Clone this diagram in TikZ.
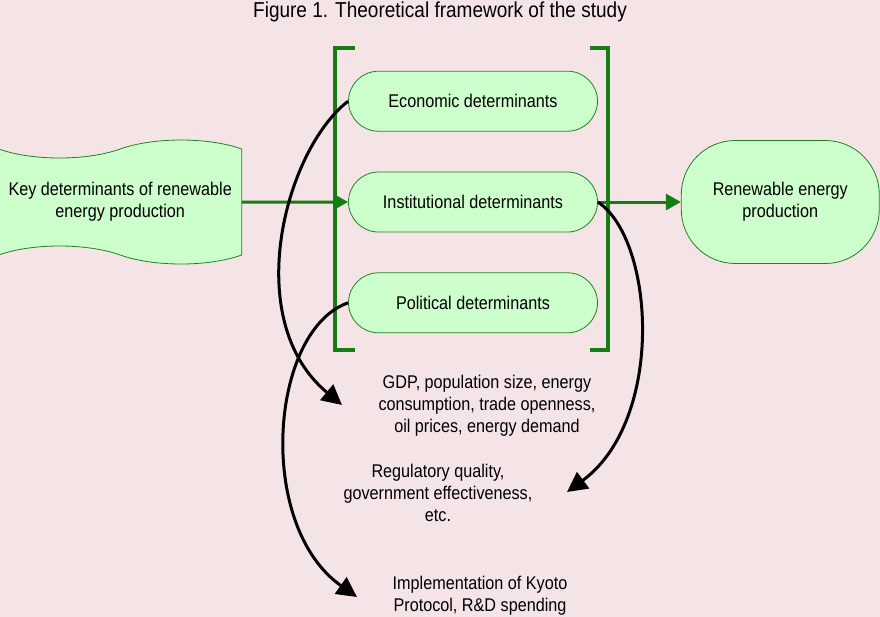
\documentclass[tikz,border=0pt]{standalone}
\usepackage{fontspec}
\setmainfont{Liberation Sans}[FakeStretch=0.88]
\usetikzlibrary{positioning,arrows.meta,shapes.symbols}
\definecolor{bgpink}{RGB}{245,228,230}
\definecolor{boxfill}{RGB}{204,255,204}
\definecolor{boxline}{RGB}{34,130,34}
\definecolor{darkgrn}{RGB}{20,125,20}
\begin{document}
\begin{tikzpicture}[x=0.5pt,y=-0.5pt,font=\fontsize{9.2}{11}\selectfont,
    det/.style={draw=boxline,fill=boxfill,rounded corners=15pt,minimum width=124.5pt,minimum height=30pt},
    gr/.style={-{Triangle[length=7.5pt,width=8pt]},darkgrn,line width=1.5pt},
    bl/.style={-{Triangle[length=10pt,width=10pt]},black,line width=1.5pt},
    brk/.style={darkgrn,line width=1.6pt},
    lbl/.style={align=center}]
    \fill[bgpink] (0,0) rectangle (880,617);
    \useasboundingbox (0,0) rectangle (880,617);
    \node[font=\fontsize{10.8}{13}\selectfont] (title) at (440,12) {Figure 1. Theoretical framework of the study};
    \node[det] (inst) at (473,202) {Institutional determinants};
    \node[det,above=20pt of inst] (econ) {Economic determinants};
    \node[det,below=20pt of inst] (pol) {Political determinants};
    \node[tape,draw=boxline,fill=boxfill,tape bend top=in and out,tape bend bottom=out and in,
      tape bend height=9pt,minimum width=121.5pt,minimum height=62pt,align=center,left=53pt of inst] (key)
      {Key determinants of renewable\\energy production};
    \node[draw=boxline,fill=boxfill,rounded corners=27pt,minimum width=99pt,minimum height=61.5pt,
      align=center,right=41.5pt of inst] (ren) {Renewable energy\\production};
    % brackets round the three groups
    \draw[brk] (355,48) -- (335,48) -- (335,350) -- (355,350);
    \draw[brk] (590,48) -- (608,48) -- (608,350) -- (590,350);
    \draw[gr] (key) -- (inst); \draw[gr] (inst) -- (ren);
    \node[lbl] (gdp) at (487,406) {GDP, population size, energy\\consumption, trade openness,\\oil prices, energy demand};
    \node[lbl] (reg) at (438,493) {Regulatory quality,\\government effectiveness,\\etc.};
    \node[lbl] (kyo) at (480,596) {Implementation of Kyoto\\Protocol, R\&D spending};
    \coordinate (t1) at (342,405);
    \coordinate (t2) at (567,492);
    \coordinate (t3) at (357,597);
    \draw[bl] (econ.west) .. controls (285,150) and (240,320) .. (t1);
    \draw[bl] (inst.east) .. controls (655,240) and (665,420) .. (t2);
    \draw[bl] (pol.west) .. controls (270,330) and (255,525) .. (t3);
  \end{tikzpicture}
\end{document}
